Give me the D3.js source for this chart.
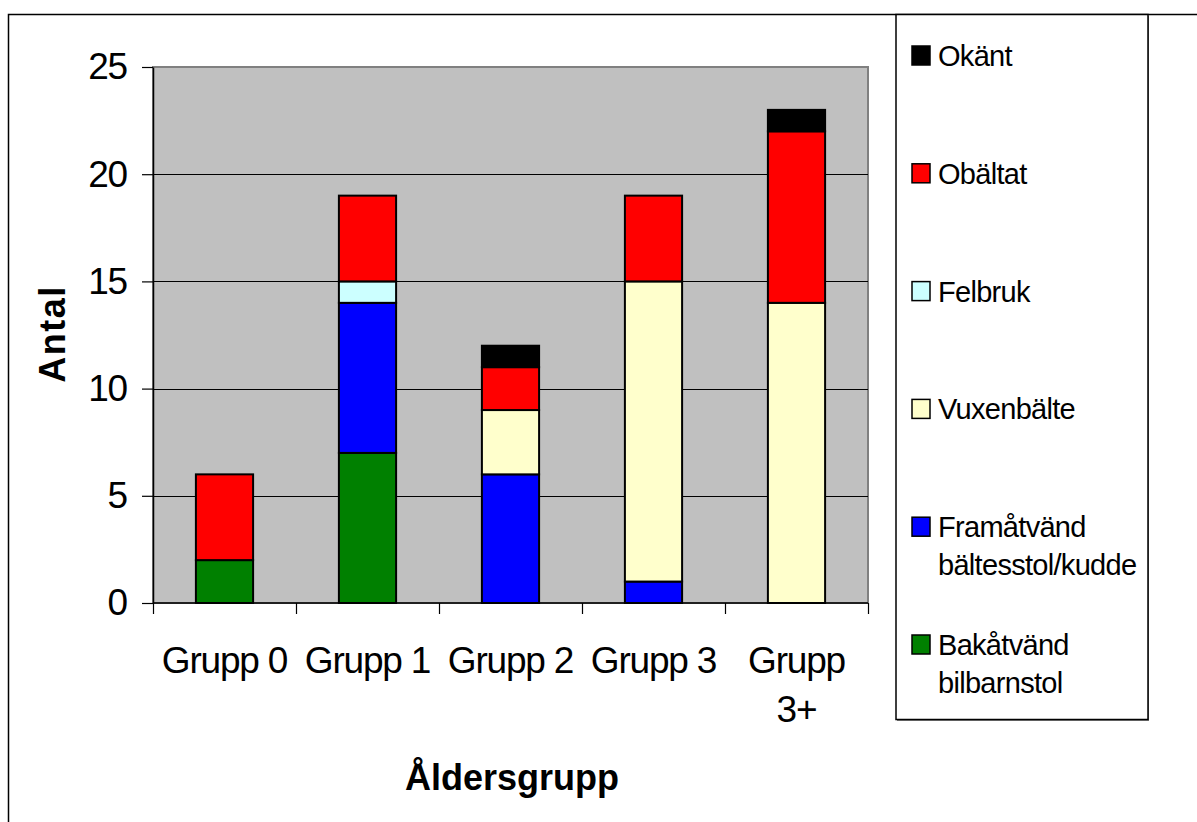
<!DOCTYPE html>
<html>
<head>
<meta charset="utf-8">
<script src="https://cdn.jsdelivr.net/npm/d3@7"></script>
<style>
  body { margin: 0; background: #fff; }
  svg { display: block; font-family: "Liberation Sans", Arial, sans-serif; }
</style>
</head>
<body>
<svg id="chart" width="1197" height="822"></svg>
<script>
// Age groups and seat usage counts, stacked bottom to top in series order
const categories = ["Grupp 0", "Grupp 1", "Grupp 2", "Grupp 3", "Grupp 3+"];
const seriesNames = ["Bakåtvänd bilbarnstol", "Framåtvänd bältesstol/kudde", "Vuxenbälte", "Felbruk", "Obältat", "Okänt"];
const bakatvand  = [2, 7, 0, 0, 0];
const framatvand = [0, 7, 6, 1, 0];
const vuxenbalte = [0, 0, 3, 14, 14];
const felbruk    = [0, 1, 0, 0, 0];
const obaltat    = [4, 4, 2, 4, 8];
const okant      = [0, 0, 1, 0, 1];
const seriesColors = ["#008000", "#0000FF", "#FFFFCC", "#CCFFFF", "#FF0000", "#000000"];
const yTicks = [0, 5, 10, 15, 20, 25];
const yTitle = "Antal";
const xTitle = "Åldersgrupp";

const seriesValues = [bakatvand, framatvand, vuxenbalte, felbruk, obaltat, okant];
const rows = categories.map((c, i) => {
  const r = { cat: c };
  seriesNames.forEach((s, k) => { r[s] = seriesValues[k][i]; });
  return r;
});

const svg = d3.select("#chart");
const plot = { left: 153, right: 868, top: 67, bottom: 603 };
const tickFont = 37, tickSpacing = -1.2;
const legendFont = 29, legendSpacing = -0.7;

// Outer chart frame (extends past the page edge on the right and bottom)
svg.append("rect")
  .attr("x", 8.5).attr("y", 14.5).attr("width", 1400).attr("height", 1000)
  .attr("fill", "none").attr("stroke", "#000").attr("stroke-width", 1.5);

const x = d3.scaleBand().domain(categories)
  .range([plot.left, plot.right]).paddingInner(0.6).paddingOuter(0.3);
const y = d3.scaleLinear().domain([0, 25]).range([plot.bottom, plot.top]);

// Plot area background
svg.append("rect")
  .attr("x", plot.left).attr("y", plot.top)
  .attr("width", plot.right - plot.left).attr("height", plot.bottom - plot.top)
  .attr("fill", "#C0C0C0").attr("stroke", "#808080").attr("stroke-width", 2);

// Horizontal gridlines
svg.append("g").selectAll("line")
  .data(yTicks.filter(t => t > 0 && t < 25))
  .join("line")
  .attr("x1", plot.left).attr("x2", plot.right)
  .attr("y1", d => Math.round(y(d)) + 0.5).attr("y2", d => Math.round(y(d)) + 0.5)
  .attr("stroke", "#000").attr("stroke-width", 1.2);

// Stacked bars
const stack = d3.stack().keys(seriesNames)(rows);
svg.append("g").selectAll("g")
  .data(stack)
  .join("g")
  .attr("fill", (d, i) => seriesColors[i])
  .selectAll("rect")
  .data(d => d.filter(s => s[1] - s[0] > 0))
  .join("rect")
  .attr("x", d => x(d.data.cat))
  .attr("width", x.bandwidth())
  .attr("y", d => y(d[1]))
  .attr("height", d => y(d[0]) - y(d[1]))
  .attr("stroke", "#000").attr("stroke-width", 2);

// Y axis
const yAxis = svg.append("g")
  .attr("transform", `translate(${plot.left},0)`)
  .call(d3.axisLeft(y).tickValues(yTicks).tickSize(11).tickSizeOuter(0).tickPadding(15));
yAxis.select(".domain").attr("stroke", "#000").attr("stroke-width", 1.5);
yAxis.selectAll(".tick line").attr("stroke", "#000").attr("stroke-width", 1.2);
yAxis.selectAll(".tick text")
  .attr("font-family", "Liberation Sans, Arial, sans-serif")
  .attr("font-size", tickFont).attr("letter-spacing", tickSpacing).attr("fill", "#000");

// X axis line and category boundary ticks
svg.append("line")
  .attr("x1", plot.left).attr("x2", plot.right)
  .attr("y1", plot.bottom).attr("y2", plot.bottom)
  .attr("stroke", "#000").attr("stroke-width", 1.5);
const boundaries = d3.range(categories.length + 1).map(i => plot.left + i * x.step());
svg.append("g").selectAll("line")
  .data(boundaries)
  .join("line")
  .attr("x1", d => Math.round(d) + 0.5).attr("x2", d => Math.round(d) + 0.5)
  .attr("y1", plot.bottom).attr("y2", plot.bottom + 11)
  .attr("stroke", "#000").attr("stroke-width", 1.2);

// Category labels, wrapped when wider than their slot
const catLabels = svg.append("g")
  .attr("font-size", tickFont).attr("letter-spacing", tickSpacing)
  .attr("text-anchor", "middle").attr("fill", "#000");
categories.forEach(c => {
  const cx = x(c) + x.bandwidth() / 2;
  const t = catLabels.append("text").attr("x", cx).attr("y", 673).text(c);
  if (t.node().getComputedTextLength() > x.step() - 4) {
    t.text(null);
    c.split(" ").forEach((w, i) => {
      t.append("tspan").attr("x", cx).attr("y", 673 + i * 49).text(w);
    });
  }
});

// Axis titles
svg.append("text")
  .attr("transform", "translate(65,334) rotate(-90)")
  .attr("text-anchor", "middle").attr("font-size", 36).attr("font-weight", "bold")
  .attr("letter-spacing", 1.5)
  .text(yTitle);
svg.append("text")
  .attr("x", 512).attr("y", 790)
  .attr("text-anchor", "middle").attr("font-size", 36).attr("font-weight", "bold")
  .text(xTitle);

// Legend
const legend = svg.append("g");
legend.append("rect")
  .attr("x", 897).attr("y", 16).attr("width", 252).attr("height", 705)
  .attr("fill", "#808080");
legend.append("rect")
  .attr("x", 896).attr("y", 14.5).attr("width", 252).attr("height", 705)
  .attr("fill", "#fff").attr("stroke", "#000").attr("stroke-width", 1.5);

const legendOrder = seriesNames.map((n, i) => ({ name: n, color: seriesColors[i] })).reverse();
const legendStep = 117.8;
legendOrder.forEach((e, i) => {
  const base = 66 + i * legendStep;
  legend.append("rect")
    .attr("x", 912).attr("y", base - 20).attr("width", 18).attr("height", 19)
    .attr("fill", e.color).attr("stroke", "#000").attr("stroke-width", 1.5);
  const t = legend.append("text").attr("x", 938).attr("y", base)
    .attr("font-size", legendFont).attr("letter-spacing", legendSpacing).attr("fill", "#000");
  e.name.split(" ").forEach((w, k) => {
    t.append("tspan").attr("x", 938).attr("y", base + k * 37.5).text(w);
  });
});
</script>
</body>
</html>
